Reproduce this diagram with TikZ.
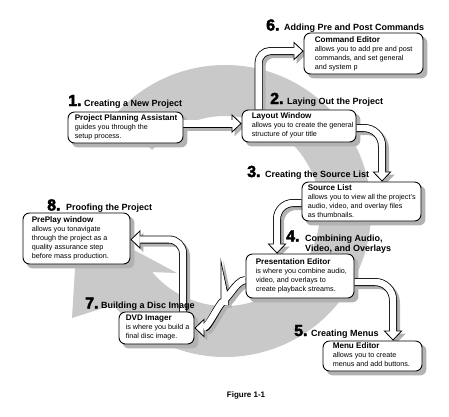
\documentclass[tikz,border=0pt]{standalone}
\usepackage{fontspec}
\setmainfont{Liberation Sans}
\newfontfamily\numfont{Liberation Sans}[BoldFeatures={FakeBold=2.6}]
\usetikzlibrary{arrows.meta,calc}
\pgfdeclarelayer{bg}\pgfdeclarelayer{shad}\pgfdeclarelayer{conn}
\pgfsetlayers{bg,shad,conn,main}
\definecolor{ringgray}{gray}{0.79}
\definecolor{shadgray}{gray}{0.70}
\newcommand\boxhead[1]{{\bfseries\fontsize{8.1}{9}\selectfont #1}\\}
\tikzset{
  box/.style={draw=black, line width=0.9pt, fill=white, rounded corners=6.5pt, inner sep=0pt},
  btext/.style={anchor=north west, inner sep=0pt, align=left, font=\fontsize{7.2}{9}\selectfont},
  numst/.style={anchor=base west, inner sep=0pt, font=\numfont\bfseries\fontsize{16}{16}\selectfont},
  ttl/.style={anchor=base west, inner sep=0pt, font=\bfseries\fontsize{9}{10}\selectfont},
  harrowout/.style={draw=black, line width=8pt, -{Triangle[length=10pt,width=19pt,line width=0.8pt,fill=white]}},
  harrowin/.style={draw=white, line width=6.4pt, shorten >=8.8pt},
  harrowshad/.style={draw=shadgray, line width=8pt, -{Triangle[length=10pt,width=19pt]}, transform canvas={shift={(3pt,-3pt)}}},
  boxshad/.style={fill=shadgray, rounded corners=6.5pt}
}
\newcommand\harrow[1]{%
  \begin{pgfonlayer}{shad}\draw[harrowshad] #1;\end{pgfonlayer}%
  \begin{pgfonlayer}{conn}\draw[harrowout] #1; \draw[harrowin] #1;\end{pgfonlayer}}
\begin{document}
\begin{tikzpicture}[x=1pt,y=-1pt]
\useasboundingbox (0,0) rectangle (449,416);
\begin{pgfonlayer}{bg}
  \fill[white] (0,0) rectangle (449,416);
  \fill[ringgray] (225,211) ++(220:146) arc[start angle=220,end angle=500,radius=146]
     -- (72,318) -- (78,220) -- (177,273) -- ($(225,211)+(500:95)$)
     arc[start angle=500,end angle=220,radius=95] -- cycle;
\end{pgfonlayer}

% boxes
\node[box, minimum width=115pt, minimum height=31pt] (b1) at (125.5,127.5) {};
\node[box, minimum width=114pt, minimum height=32pt] (b2) at (299,126) {};
\node[box, minimum width=119pt, minimum height=41pt] (b6) at (363.5,53.5) {};
\node[box, minimum width=119pt, minimum height=39pt] (b3) at (361.5,201.5) {};
\node[box, minimum width=107pt, minimum height=51pt] (b8) at (76.5,238.5) {};
\node[box, minimum width=108pt, minimum height=44pt] (b4) at (300,276) {};
\node[box, minimum width=75pt, minimum height=32pt] (b7) at (156.5,328) {};
\node[box, minimum width=99pt, minimum height=30pt] (b5) at (372.5,356) {};

\begin{pgfonlayer}{shad}
\foreach \b in {b1,b2,b6,b3,b8,b4,b7,b5}
  \fill[boxshad] ($(\b.south west)+(4,4)$) rectangle ($(\b.north east)+(4,4)$);
\end{pgfonlayer}

% box texts
\node[btext] (t1) at ($(b1.north west)+(7,3)$) {\boxhead{Project Planning Assistant}guides you through the\\setup process.};
\node[btext] (t2) at ($(b2.north west)+(10,3)$) {\boxhead{Layout Window}allows you to create the general\\structure of your title};
\node[btext] (t6) at ($(b6.north west)+(11,4)$) {\boxhead{Command Editor}allows you to add pre and post\\commands, and set general\\and system p};
\node[btext] (t3) at ($(b3.north west)+(6,2.5)$) {\boxhead{Source List}allows you to view all the project's\\audio, video, and overlay files\\as thumbnails.};
\node[btext] (t8) at ($(b8.north west)+(9,4)$) {\boxhead{PrePlay window}allows you tonavigate\\through the project as a\\quality assurance step\\before mass production.};
\node[btext] (t4) at ($(b4.north west)+(10,5)$) {\boxhead{Presentation Editor}is where you combine audio,\\video, and overlays to\\create playback streams.};
\node[btext] (t7) at ($(b7.north west)+(7,3.5)$) {\boxhead{DVD Imager}is where you build a\\final disc image.};
\node[btext] (t5) at ($(b5.north west)+(10,2)$) {\boxhead{Menu Editor}allows you to create\\menus and add buttons.};

% titles
\node[numst] (n1) at (68,106) {1.};
\node[ttl] (h1) at (84,106) {Creating a New Project};
\node[numst] (n6) at (266,30.5) {6.};
\node[ttl] (h6) at (284,30.5) {Adding Pre and Post Commands};
\node[numst] (n2) at (270,104) {2.};
\node[ttl] (h2) at (287,104) {Laying Out the Project};
\node[numst] (n3) at (247,177) {3.};
\node[ttl] (h3) at (265,177) {Creating the Source List};
\node[numst] (n8) at (47,210.5) {8.};
\node[ttl] (h8) at (66,210.5) {Proofing the Project};
\node[numst] (n4) at (286,241.5) {4.};
\node[ttl] (h4a) at (305,241.5) {Combining Audio,};
\node[ttl] (h4b) at (305,251) {Video, and Overlays};
\node[numst] (n7) at (85,308.5) {7.};
\node[ttl] (h7) at (101,308.5) {Building a Disc Image};
\node[numst] (n5) at (294,336) {5.};
\node[ttl] (h5) at (311,336) {Creating Menus};
\node[anchor=base, inner sep=0pt, font=\bfseries\fontsize{8}{9}\selectfont] (fig) at (246,397) {Figure 1-1};

% connectors
\coordinate (s12) at ($(b1.east)+(0,-4)$);
\harrow{(s12) -- (b2.west |- s12)}
\harrow{($(b2.north west)+(17,0)$) [rounded corners=12pt] |- ($(b6.west)+(0,-2.5)$)}
\harrow{($(b2.east)+(0,2)$) [rounded corners=18pt] -| ($(b3.north)+(20.5,0)$)}
\harrow{($(b3.west)+(0,1.5)$) [rounded corners=16pt] -| ($(b4.north)+(-23,0)$)}
\harrow{($(b4.east)+(0,6)$) [rounded corners=18pt] -| ($(b5.north)+(20.5,0)$)}
\harrow{($(b4.west)+(0,4)$) to[out=180,in=270] ++(-21,16) -- ++(0,9) to[out=90,in=0] (b7.east)}
\harrow{($(b7.north)+(26.5,0)$) [rounded corners=14pt] |- ($(b8.east)+(0,1)$)}
\end{tikzpicture}
\end{document}
